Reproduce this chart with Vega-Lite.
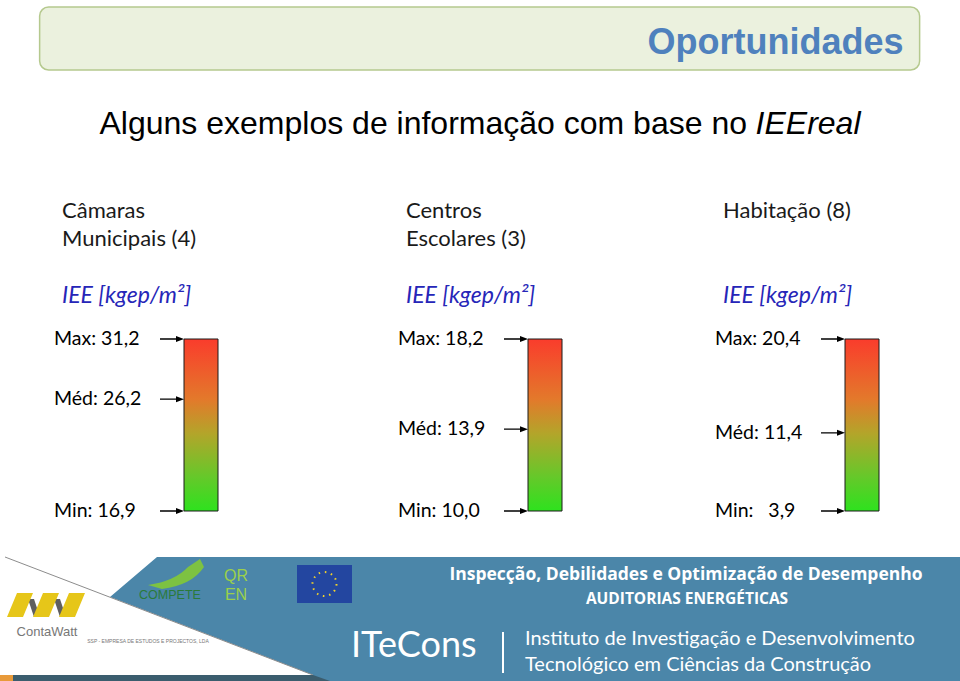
{
  "$schema": "https://vega.github.io/schema/vega-lite/v6.json",
  "padding": {"left": 0, "right": 0, "top": 6, "bottom": 0},
  "background": "white",
  "center": true,
  "spacing": 34,
  "datasets": {
    "iee": [
      {"grupo": "Câmaras Municipais", "medida": "Max", "valor": 31.2, "rotulo": "Max: 31,2"},
      {"grupo": "Câmaras Municipais", "medida": "Méd", "valor": 26.2, "rotulo": "Méd: 26,2"},
      {"grupo": "Câmaras Municipais", "medida": "Min", "valor": 16.9, "rotulo": "Min: 16,9"},
      {"grupo": "Centros Escolares", "medida": "Max", "valor": 18.2, "rotulo": "Max: 18,2"},
      {"grupo": "Centros Escolares", "medida": "Méd", "valor": 13.9, "rotulo": "Méd: 13,9"},
      {"grupo": "Centros Escolares", "medida": "Min", "valor": 10.0, "rotulo": "Min: 10,0"},
      {"grupo": "Habitação", "medida": "Max", "valor": 20.4, "rotulo": "Max: 20,4"},
      {"grupo": "Habitação", "medida": "Méd", "valor": 11.4, "rotulo": "Méd: 11,4"},
      {"grupo": "Habitação", "medida": "Min", "valor": 3.9, "rotulo": "Min: \u00a0 3,9"}
    ]
  },
  "vconcat": [
    {
      "width": 880,
      "height": 63,
      "view": {"fill": "#ebf1de", "stroke": "#b5c98e", "strokeWidth": 1.5, "cornerRadius": 9},
      "data": {"values": [{"titulo": "Oportunidades"}]},
      "mark": {"type": "text", "align": "right", "baseline": "alphabetic", "dx": -16, "dy": 15, "font": "Liberation Sans", "fontSize": 36, "fontWeight": "bold", "color": "#4f81bd"},
      "encoding": {"x": {"value": "width"}, "text": {"field": "titulo"}}
    },
    {
      "width": 761,
      "height": 61,
      "data": {"values": [{"parte1": "Alguns exemplos de informação com base no", "parte2": "IEEreal"}]},
      "layer": [
        {
          "mark": {"type": "text", "align": "left", "baseline": "alphabetic", "dy": -1.5, "font": "Liberation Sans", "fontSize": 32, "color": "#000000"},
          "encoding": {"x": {"value": 0}, "text": {"field": "parte1"}}
        },
        {
          "mark": {"type": "text", "align": "right", "baseline": "alphabetic", "dy": -1.5, "font": "Liberation Sans", "fontSize": 32, "fontStyle": "italic", "color": "#000000"},
          "encoding": {"x": {"value": "width"}, "text": {"field": "parte2"}}
        }
      ]
    },
    {
      "spacing": 0,
      "hconcat": [
        {
          "width": 344,
          "height": 172,
          "data": {"name": "iee"},
          "transform": [{"filter": {"field": "grupo", "equal": "Câmaras Municipais"}}],
          "title": {"text": ["Câmaras", "Municipais (4)"], "subtitle": "IEE [kgep/m²]"},
          "layer": [
            {
              "mark": {"type": "rect", "stroke": "#1a1a1a", "strokeWidth": 1, "fill": {"gradient": "linear", "x1": 0, "y1": 0, "x2": 0, "y2": 1, "stops": [{"offset": 0, "color": "#fa3c2c"}, {"offset": 0.35, "color": "#e3792b"}, {"offset": 0.55, "color": "#b3a52a"}, {"offset": 0.8, "color": "#66c82a"}, {"offset": 1, "color": "#2ee21e"}]}},
              "encoding": {
                "x": {"datum": 0, "type": "quantitative", "scale": {"domain": [0, 1], "range": [130, 164]}, "axis": null},
                "x2": {"datum": 1},
                "y": {"aggregate": "min", "field": "valor", "type": "quantitative", "scale": {"zero": false, "nice": false}, "axis": null},
                "y2": {"aggregate": "max", "field": "valor"}
              }
            },
            {
              "mark": {"type": "point", "shape": "M-3,-0.08L-1,-0.08L-1,-0.375L0,0L-1,0.375L-1,0.08L-3,0.08Z", "size": 256, "filled": true, "color": "#000000", "opacity": 1},
              "encoding": {"x": {"datum": 0, "type": "quantitative"}, "y": {"field": "valor", "type": "quantitative"}}
            },
            {
              "mark": {"type": "text", "align": "left", "baseline": "middle", "font": "Lato", "fontSize": 19.5, "color": "#000000"},
              "encoding": {"x": {"value": 0}, "y": {"field": "valor", "type": "quantitative"}, "text": {"field": "rotulo"}}
            }
          ]
        },
        {
          "width": 317,
          "height": 172,
          "data": {"name": "iee"},
          "transform": [{"filter": {"field": "grupo", "equal": "Centros Escolares"}}],
          "title": {"text": ["Centros", "Escolares (3)"], "subtitle": "IEE [kgep/m²]"},
          "layer": [
            {
              "mark": {"type": "rect", "stroke": "#1a1a1a", "strokeWidth": 1, "fill": {"gradient": "linear", "x1": 0, "y1": 0, "x2": 0, "y2": 1, "stops": [{"offset": 0, "color": "#fa3c2c"}, {"offset": 0.35, "color": "#e3792b"}, {"offset": 0.55, "color": "#b3a52a"}, {"offset": 0.8, "color": "#66c82a"}, {"offset": 1, "color": "#2ee21e"}]}},
              "encoding": {
                "x": {"datum": 0, "type": "quantitative", "scale": {"domain": [0, 1], "range": [130, 164]}, "axis": null},
                "x2": {"datum": 1},
                "y": {"aggregate": "min", "field": "valor", "type": "quantitative", "scale": {"zero": false, "nice": false}, "axis": null},
                "y2": {"aggregate": "max", "field": "valor"}
              }
            },
            {
              "mark": {"type": "point", "shape": "M-3,-0.08L-1,-0.08L-1,-0.375L0,0L-1,0.375L-1,0.08L-3,0.08Z", "size": 256, "filled": true, "color": "#000000", "opacity": 1},
              "encoding": {"x": {"datum": 0, "type": "quantitative"}, "y": {"field": "valor", "type": "quantitative"}}
            },
            {
              "mark": {"type": "text", "align": "left", "baseline": "middle", "font": "Lato", "fontSize": 19.5, "color": "#000000"},
              "encoding": {"x": {"value": 0}, "y": {"field": "valor", "type": "quantitative"}, "text": {"field": "rotulo"}}
            }
          ]
        },
        {
          "width": 191,
          "height": 172,
          "data": {"name": "iee"},
          "transform": [{"filter": {"field": "grupo", "equal": "Habitação"}}],
          "title": {"text": ["Habitação (8)", " "], "subtitle": "IEE [kgep/m²]"},
          "layer": [
            {
              "mark": {"type": "rect", "stroke": "#1a1a1a", "strokeWidth": 1, "fill": {"gradient": "linear", "x1": 0, "y1": 0, "x2": 0, "y2": 1, "stops": [{"offset": 0, "color": "#fa3c2c"}, {"offset": 0.35, "color": "#e3792b"}, {"offset": 0.55, "color": "#b3a52a"}, {"offset": 0.8, "color": "#66c82a"}, {"offset": 1, "color": "#2ee21e"}]}},
              "encoding": {
                "x": {"datum": 0, "type": "quantitative", "scale": {"domain": [0, 1], "range": [130, 164]}, "axis": null},
                "x2": {"datum": 1},
                "y": {"aggregate": "min", "field": "valor", "type": "quantitative", "scale": {"zero": false, "nice": false}, "axis": null},
                "y2": {"aggregate": "max", "field": "valor"}
              }
            },
            {
              "mark": {"type": "point", "shape": "M-3,-0.08L-1,-0.08L-1,-0.375L0,0L-1,0.375L-1,0.08L-3,0.08Z", "size": 256, "filled": true, "color": "#000000", "opacity": 1},
              "encoding": {"x": {"datum": 0, "type": "quantitative"}, "y": {"field": "valor", "type": "quantitative"}}
            },
            {
              "mark": {"type": "text", "align": "left", "baseline": "middle", "font": "Lato", "fontSize": 19.5, "color": "#000000"},
              "encoding": {"x": {"value": 0}, "y": {"field": "valor", "type": "quantitative"}, "text": {"field": "rotulo"}}
            }
          ]
        }
      ]
    },
    {
      "width": 960,
      "height": 124,
      "view": {"fill": "#4b86a9", "stroke": null},
      "data": {"values": [{}]},
      "layer": [
        {"mark": {"type": "point", "shape": "M-480,-62L-323,-62L-370,-22L-167,56L-480,56Z", "size": 4, "filled": true, "color": "#ffffff", "opacity": 1}},
        {"mark": {"type": "point", "shape": "M-475,-62L-167,56", "size": 4, "filled": false, "color": "#8c8c8c", "strokeWidth": 1, "opacity": 1}},
        {"mark": {"type": "point", "shape": "M-467,56L-167,56L-150,62L-467,62Z", "size": 4, "filled": true, "color": "#3b5d6e", "opacity": 1}},
        {"mark": {"type": "point", "shape": "M-480,56L-467,56L-467,62L-480,62Z", "size": 4, "filled": true, "color": "#e89a3a", "opacity": 1}},
        {"mark": {"type": "point", "shape": "M-452,-20L-446,-20L-440,-2L-446,-2ZM-426,-20L-420,-20L-414,-2L-420,-2Z", "size": 4, "filled": true, "color": "#5f5f5f", "opacity": 1}},
        {"mark": {"type": "point", "shape": "M-473,-2L-463,-26L-447,-26L-457,-2ZM-447,-2L-437,-26L-421,-26L-431,-2ZM-421,-2L-411,-26L-395,-26L-405,-2Z", "size": 4, "filled": true, "color": "#e6c619", "opacity": 1}},
        {"mark": {"type": "text", "text": "ContaWatt", "font": "Liberation Sans", "fontSize": 13, "color": "#777777", "align": "center", "baseline": "middle", "dx": -433, "dy": 13}},
        {"mark": {"type": "text", "text": "SSP - EMPRESA DE ESTUDOS E PROJECTOS, LDA", "font": "Liberation Sans", "fontSize": 5, "color": "#777777", "align": "center", "baseline": "middle", "dx": -332, "dy": 22}},
        {"mark": {"type": "point", "shape": "M-332,-34Q-305,-38 -292,-52L-280,-60L-276,-52Q-288,-34 -318,-30Z", "size": 4, "filled": true, "color": "#7dc242", "opacity": 1}},
        {"mark": {"type": "text", "text": "COMPETE", "font": "Liberation Sans", "fontSize": 12.5, "color": "#2a7a3a", "align": "center", "baseline": "middle", "dx": -310, "dy": -24}},
        {"mark": {"type": "text", "text": "QR", "font": "Liberation Sans", "fontSize": 16, "color": "#9bd04a", "align": "center", "baseline": "middle", "dx": -244, "dy": -43}},
        {"mark": {"type": "text", "text": "EN", "font": "Liberation Sans", "fontSize": 16, "color": "#9bd04a", "align": "center", "baseline": "middle", "dx": -244, "dy": -24}},
        {"mark": {"type": "point", "shape": "M-183,-54L-128,-54L-128,-16L-183,-16Z", "size": 4, "filled": true, "color": "#2346a0", "opacity": 1}},
        {"mark": {"type": "point", "shape": "M-143.5,-35A12,12 0 1 1 -167.5,-35A12,12 0 1 1 -143.5,-35Z", "size": 4, "filled": false, "color": "#f2d22a", "strokeWidth": 2, "strokeDash": [1.5, 4.78], "opacity": 1}},
        {"mark": {"type": "text", "text": "Inspecção, Debilidades e Optimização de Desempenho", "font": "Open Sans", "fontSize": 17.5, "fontWeight": "bold", "color": "#ffffff", "align": "center", "baseline": "middle", "dx": 206, "dy": -44}},
        {"mark": {"type": "text", "text": "AUDITORIAS ENERGÉTICAS", "font": "Open Sans", "fontSize": 15.5, "fontWeight": "bold", "color": "#ffffff", "align": "center", "baseline": "middle", "dx": 207, "dy": -20}},
        {"mark": {"type": "text", "text": "ITeCons", "font": "Lato", "fontSize": 36, "color": "#ffffff", "align": "left", "baseline": "alphabetic", "dx": -129, "dy": 38}},
        {"mark": {"type": "point", "shape": "M23,13L23,54", "size": 4, "filled": false, "color": "#ffffff", "strokeWidth": 2, "opacity": 1}},
        {"mark": {"type": "text", "text": "Instituto de Investigação e Desenvolvimento", "font": "Lato", "fontSize": 20, "color": "#ffffff", "align": "left", "baseline": "alphabetic", "dx": 45, "dy": 26}},
        {"mark": {"type": "text", "text": "Tecnológico em Ciências da Construção", "font": "Lato", "fontSize": 20, "color": "#ffffff", "align": "left", "baseline": "alphabetic", "dx": 45, "dy": 52}}
      ]
    }
  ],
  "config": {
    "view": {"stroke": null},
    "title": {
      "anchor": "start",
      "frame": "bounds",
      "dx": 8,
      "font": "Lato",
      "fontSize": 22,
      "fontWeight": "normal",
      "color": "#1a1a1a",
      "lineHeight": 28,
      "offset": 20,
      "subtitleFont": "Lato",
      "subtitleFontSize": 23,
      "subtitleFontStyle": "italic",
      "subtitleColor": "#2626b8",
      "subtitlePadding": 34
    }
  }
}
